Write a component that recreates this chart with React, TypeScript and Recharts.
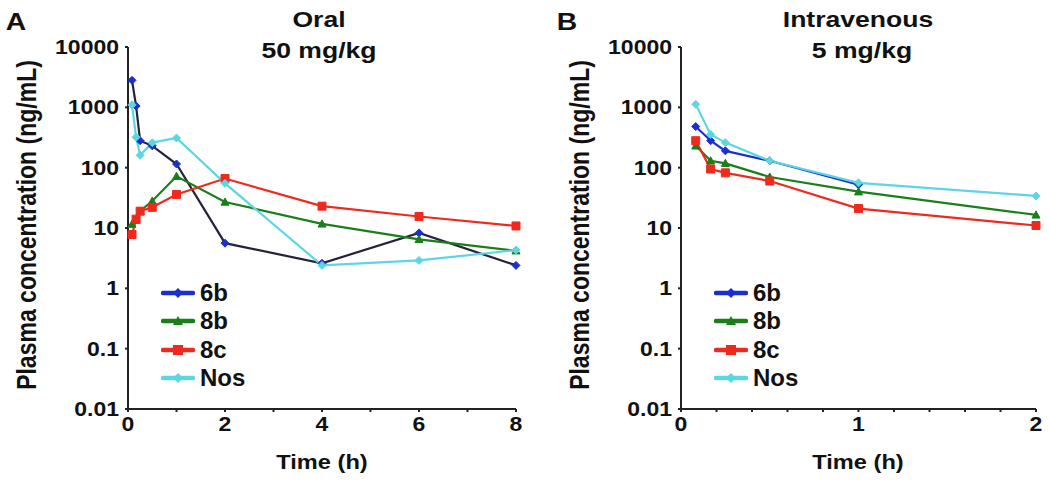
import React from 'react'
import { LineChart, Line, XAxis, YAxis } from 'recharts'

// sampling times (h)
const oralTimes = [0.083, 0.167, 0.25, 0.5, 1, 2, 4, 6, 8]
const ivTimes = [0.083, 0.167, 0.25, 0.5, 1, 2]

// oral 50 mg/kg (ng/mL)
const oral6b = [2800, 1050, 280, 230, 115, 5.6, 2.6, 8.3, 2.4]
const oral8b = [11.6, 13.5, 19, 28, 72, 27, 11.7, 6.5, 4.2]
const oral8c = [7.8, 14, 19, 22, 36, 66, 23, 15.5, 10.8]
const oralNos = [1100, 320, 160, 260, 310, 55, 2.4, 2.9, 4.3]

// intravenous 5 mg/kg (ng/mL)
const iv6b = [480, 280, 190, 130, 52, null]
const iv8b = [230, 130, 118, 70, 40, 16.5]
const iv8c = [280, 95, 82, 60, 21, 11]
const ivNos = [1120, 355, 260, 130, 56, 34]

const yTicks = [0.01, 0.1, 1, 10, 100, 1000, 10000]
const oralXTicks = [0, 1, 2, 3, 4, 5, 6, 7, 8]
const ivXTicks = [0, 0.2, 0.4, 0.6, 0.8, 1, 1.2, 1.4, 1.6, 1.8, 2]

const seriesNames = ['6b', '8b', '8c', 'Nos']
const seriesColors = ['#1b2fd0', '#1a7f1a', '#ee2a1e', '#5cd6e2']
const seriesShapes = ['diamond', 'triangle', 'square', 'diamond']

const FONT = '"Liberation Sans", Arial, sans-serif'
const STRETCH = 1.18 // the original figure is a bit wide

function markerPath(shape: string, cx: number, cy: number, r: number) {
  if (shape === 'triangle') return `M${cx},${cy - r} L${cx + r},${cy + r * 0.8} L${cx - r},${cy + r * 0.8} Z`
  if (shape === 'square') return `M${cx - r},${cy - r} h${2 * r} v${2 * r} h${-2 * r} Z`
  return `M${cx},${cy - r} L${cx + r},${cy} L${cx},${cy + r} L${cx - r},${cy} Z`
}

function makeDot(shape: string, color: string) {
  return (props: any) => {
    const { cx, cy, index, value } = props
    if (cx == null || cy == null || value == null) return <g key={`d-${index}`} />
    return <path key={`d-${index}`} d={markerPath(shape, cx, cy, 4)} fill={color} stroke={color} strokeWidth={1} />
  }
}

function buildRows(times: number[], cols: (number | null)[][]) {
  return times.map((t, i) => {
    const row: Record<string, number | null> = { t }
    seriesNames.forEach((n, k) => {
      row[n] = cols[k][i]
    })
    return row
  })
}

const oralRows = buildRows(oralTimes, [oral6b, oral8b, oral8c, oralNos])
const ivRows = buildRows(ivTimes, [iv6b, iv8b, iv8c, ivNos])

function StretchTick(props: any) {
  const { x, y, payload, textAnchor, tickFormatter, vertical } = props
  const label = tickFormatter ? tickFormatter(payload.value, payload.index) : String(payload.value)
  if (!label) return <g />
  return (
    <g transform={`translate(${x},${y}) scale(${STRETCH},1)`}>
      <text
        x={0}
        y={0}
        dy={vertical ? '0.36em' : '0.8em'}
        textAnchor={textAnchor}
        fill="#111"
        fontSize={19.5}
        fontWeight={700}
        fontFamily={FONT}
      >
        {label}
      </text>
    </g>
  )
}

function LegendBox({ left, top }: { left: number; top: number }) {
  return (
    <div style={{ position: 'absolute', left, top, fontFamily: FONT, fontWeight: 700, fontSize: 24, color: '#111' }}>
      {seriesNames.map((n, k) => (
        <div key={n} style={{ display: 'flex', alignItems: 'center', height: 28.3 }}>
          <svg width={34} height={14} style={{ marginRight: 5 }}>
            <line x1={2} y1={7} x2={32} y2={7} stroke={seriesColors[k]} strokeWidth={4.5} strokeLinecap="round" />
            <path d={markerPath(seriesShapes[k], 17, 7, 5)} fill={seriesColors[k]} />
          </svg>
          <span>{n}</span>
        </div>
      ))}
    </div>
  )
}

function Panel({
  left,
  width,
  plotLeft,
  rows,
  domainMax,
  xTicks,
  lineColors,
}: {
  left: number
  width: number
  plotLeft: number
  rows: Record<string, number | null>[]
  domainMax: number
  xTicks: number[]
  lineColors: string[]
}) {
  const yAxisWidth = 70
  return (
    <div style={{ position: 'absolute', left, top: 0 }}>
      <LineChart
        width={width}
        height={485}
        data={rows}
        margin={{ top: 47, right: 14, bottom: 46, left: plotLeft - yAxisWidth }}
      >
        <XAxis
          dataKey="t"
          type="number"
          domain={[0, domainMax]}
          ticks={xTicks}
          interval={0}
          tickFormatter={(v: number) =>
            Math.abs(v - Math.round(v)) < 1e-6 && (domainMax > 2 ? v % 2 === 0 : true) ? String(Math.round(v)) : ''
          }
          tick={<StretchTick />}
          tickSize={3}
          tickMargin={3}
          height={30}
          stroke="#222"
          strokeWidth={2}
        />
        <YAxis
          scale="log"
          type="number"
          domain={[0.01, 10000]}
          ticks={yTicks}
          interval={0}
          allowDataOverflow
          tickFormatter={(v: number) => String(v)}
          tick={<StretchTick vertical />}
          tickSize={3}
          tickMargin={6}
          width={yAxisWidth}
          stroke="#222"
          strokeWidth={2}
        />
        {seriesNames.map((n, k) => (
          <Line
            key={n}
            dataKey={n}
            type="linear"
            stroke={lineColors[k]}
            strokeWidth={2.2}
            dot={makeDot(seriesShapes[k], seriesColors[k])}
            activeDot={false}
            isAnimationActive={false}
          />
        ))}
      </LineChart>
    </div>
  )
}

const textBase: React.CSSProperties = {
  position: 'absolute',
  fontFamily: FONT,
  fontWeight: 700,
  color: '#111',
  whiteSpace: 'nowrap',
}

function CenterText({ x, y, size, children }: { x: number; y: number; size: number; children: React.ReactNode }) {
  return (
    <div
      style={{
        ...textBase,
        left: x,
        top: y,
        fontSize: size,
        lineHeight: 1,
        transform: `translate(-50%, -50%) scale(${STRETCH},1)`,
      }}
    >
      {children}
    </div>
  )
}

function VerticalText({ x, y, children }: { x: number; y: number; children: React.ReactNode }) {
  return (
    <div
      style={{
        ...textBase,
        left: x,
        top: y,
        fontSize: 23,
        lineHeight: 1,
        transform: `translate(-50%, -50%) rotate(-90deg) scale(1,${STRETCH})`,
      }}
    >
      {children}
    </div>
  )
}

export default function App() {
  return (
    <div style={{ position: 'absolute', left: 0, top: 0, width: 1050, height: 485, background: '#fff' }}>
      <Panel
        left={0}
        width={530}
        plotLeft={128}
        rows={oralRows}
        domainMax={8}
        xTicks={oralXTicks}
        lineColors={['#23233a', seriesColors[1], seriesColors[2], seriesColors[3]]}
      />
      <Panel
        left={530}
        width={520}
        plotLeft={151}
        rows={ivRows}
        domainMax={2}
        xTicks={ivXTicks}
        lineColors={seriesColors}
      />

      <CenterText x={16} y={22} size={24}>A</CenterText>
      <CenterText x={567} y={22} size={24}>B</CenterText>

      <CenterText x={319} y={20} size={22.5}>Oral</CenterText>
      <CenterText x={319} y={51} size={22.5}>50 mg/kg</CenterText>
      <CenterText x={858} y={20} size={22.5}>Intravenous</CenterText>
      <CenterText x={862} y={51} size={22.5}>5 mg/kg</CenterText>

      <VerticalText x={27} y={225}>Plasma concentration (ng/mL)</VerticalText>
      <VerticalText x={580} y={225}>Plasma concentration (ng/mL)</VerticalText>

      <CenterText x={322} y={462} size={20}>Time (h)</CenterText>
      <CenterText x={858} y={462} size={20}>Time (h)</CenterText>

      <LegendBox left={161} top={279} />
      <LegendBox left={714} top={279} />
    </div>
  )
}
